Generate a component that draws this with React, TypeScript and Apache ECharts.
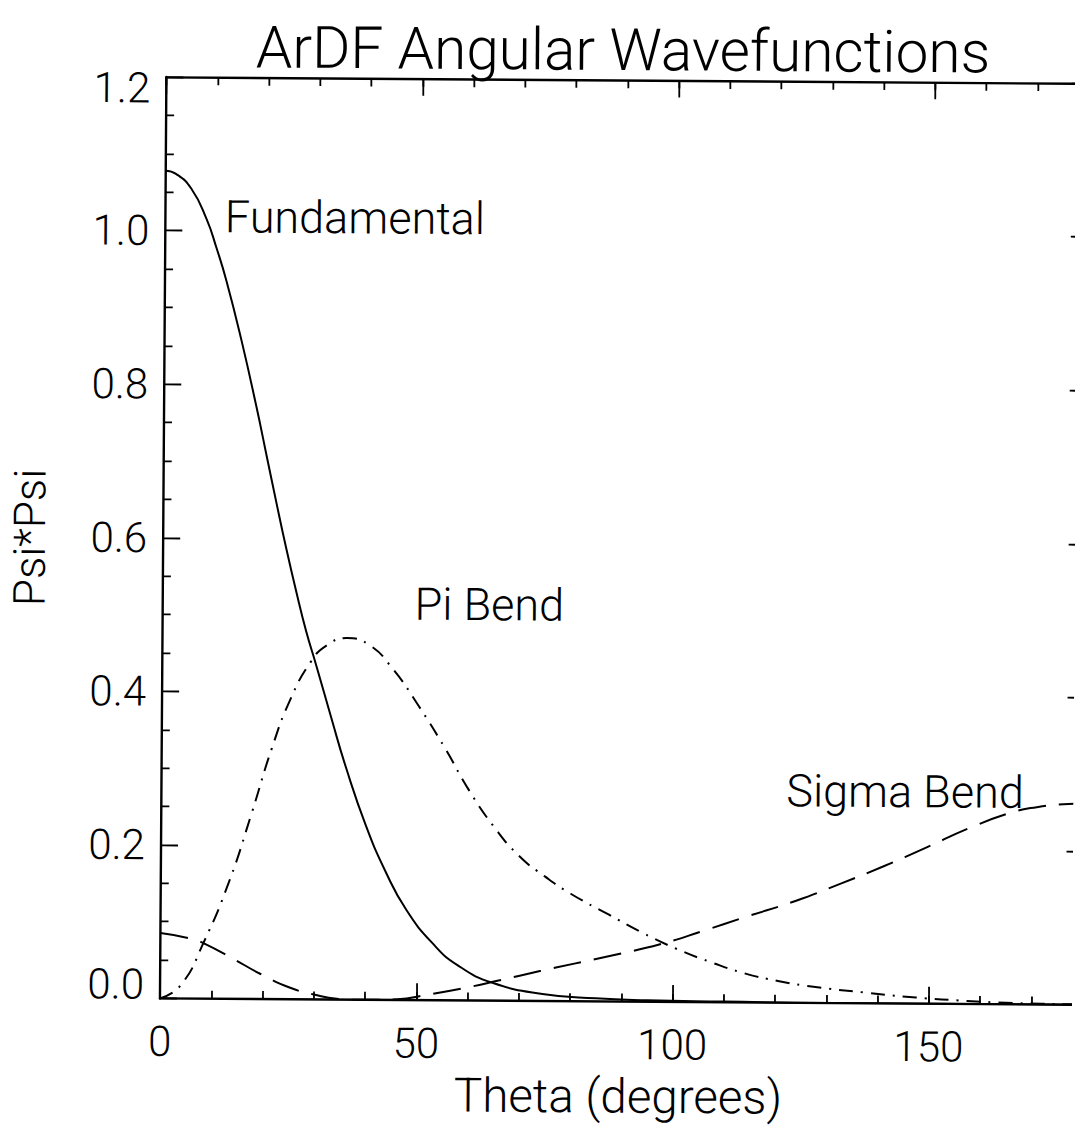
import React, { useEffect, useRef } from "react";
import * as echarts from "echarts";

// ---- Data ----
const fundTheta = [0, 2, 5, 8, 10, 12, 15, 18, 20, 22, 24, 26, 28, 30, 33, 36, 40, 44, 48, 53, 58, 65, 75, 85, 95, 110, 130, 180];
const fundValues = [1.078, 1.074, 1.055, 1.016, 0.978, 0.935, 0.858, 0.772, 0.71, 0.648, 0.588, 0.532, 0.48, 0.436, 0.368, 0.302, 0.226, 0.165, 0.117, 0.075, 0.046, 0.023, 0.009, 0.004, 0.002, 0.001, 0, 0];

const piTheta = [0, 4, 8.5, 13.4, 17.6, 21.5, 25, 29, 32, 36, 40.4, 45, 50, 55.4, 60, 65, 70, 75, 80, 87.5, 94, 100.8, 107.5, 114, 120.8, 127.5, 137.5, 147.5, 157.5, 165, 172, 180];
const piValues = [0, 0.017, 0.074, 0.154, 0.241, 0.327, 0.39, 0.44, 0.461, 0.471, 0.462, 0.431, 0.384, 0.327, 0.274, 0.226, 0.188, 0.162, 0.14, 0.113, 0.09, 0.069, 0.052, 0.038, 0.028, 0.021, 0.014, 0.008, 0.004, 0.002, 0.001, 0];

const sigmaTheta = [0, 6, 8.5, 14.3, 19.5, 25.4, 30, 34.5, 39.7, 46.3, 52, 59.9, 65.8, 74.1, 80.8, 88.8, 97.5, 106, 114, 124, 132.8, 140.8, 149.5, 158, 166, 170.8, 176, 180];
const sigmaValues = [0.085, 0.078, 0.072, 0.052, 0.033, 0.015, 0.0065, 0.001, 0, 0.001, 0.007, 0.017, 0.026, 0.039, 0.049, 0.061, 0.075, 0.093, 0.111, 0.133, 0.156, 0.178, 0.204, 0.23, 0.25, 0.257, 0.261, 0.262];

const xMajorLabels = [0, 50, 100, 150];

const FONT = "Roboto, 'DejaVu Sans', sans-serif";

function pairs(xs: number[], ys: number[]) {
  return xs.map((x, i) => [x, ys[i]]);
}

export default function App() {
  const ref = useRef<HTMLDivElement>(null);

  useEffect(() => {
    document.body.style.margin = "0";
    document.body.style.overflow = "hidden";
    const chart = echarts.init(ref.current!, null, { renderer: "svg" });

    const axisLine = { show: true, onZero: false, lineStyle: { color: "#000", width: 2.4 } };
    const noLine = { show: false, onZero: false };
    const tickStyle = { color: "#000", width: 1.8 };
    const labelFont = { fontSize: 42, fontFamily: FONT, fontWeight: 300, color: "#000" };

    const xMinor = (position: string, labels: boolean) => ({
      type: "value",
      position,
      min: 0,
      max: 180,
      interval: 10,
      axisLine: axisLine,
      axisTick: { show: true, inside: true, length: 8, lineStyle: tickStyle },
      axisLabel: {
        show: labels,
        showMaxLabel: false,
        margin: 22,
        ...labelFont,
        formatter: (v: number) => (xMajorLabels.indexOf(v) >= 0 ? String(v) : ""),
      },
      splitLine: { show: false },
    });
    const xMajor = (position: string) => ({
      type: "value",
      position,
      min: 0,
      max: 180,
      interval: 50,
      axisLine: noLine,
      axisTick: { show: true, inside: true, length: 17, lineStyle: tickStyle },
      axisLabel: { show: false },
      splitLine: { show: false },
    });
    const yAx = (position: string, labels: boolean) => ({
      type: "value",
      position,
      min: 0,
      max: 1.2,
      interval: 0.2,
      axisLine: axisLine,
      axisTick: { show: true, inside: true, length: 17, lineStyle: tickStyle },
      minorTick: { show: true, splitNumber: 4, length: 8, lineStyle: tickStyle },
      axisLabel: {
        show: labels,
        margin: 16,
        ...labelFont,
        formatter: (v: number) => {
          const s = v.toFixed(1);
          if (v >= 1.19) return "{top|" + s + "}";
          if (v <= 0.001) return "{bot|" + s + "}";
          return s;
        },
        rich: {
          top: { ...labelFont, padding: [22, 0, 0, 0] },
          bot: { ...labelFont, padding: [0, 0, 28, 0] },
        },
      },
      splitLine: { show: false },
      minorSplitLine: { show: false },
    });

    const txt = (text: string, x: number, y: number, size: number, align = "left", rotation = 0) => ({
      type: "text",
      x,
      y,
      rotation,
      style: {
        text,
        fill: "#000",
        fontSize: size,
        fontFamily: FONT,
        fontWeight: 300,
        align,
        verticalAlign: "middle",
      },
    });

    const lineSeries = (name: string, data: number[][], type: any) => ({
      name,
      type: "line",
      xAxisIndex: 0,
      yAxisIndex: 0,
      data,
      symbol: "none",
      smooth: true,
      lineStyle: { color: "#000", width: 2, type },
    });

    chart.setOption({
      animation: false,
      backgroundColor: "#fff",
      grid: {
        left: 163,
        right: -10.5,
        top: 79.6,
        bottom: 127,
        containLabel: false,
        outerBoundsMode: "none",
      },
      xAxis: [xMinor("bottom", true), xMajor("bottom"), xMinor("top", false), xMajor("top")],
      yAxis: [yAx("left", true), yAx("right", false)],
      graphic: [
        txt("ArDF Angular Wavefunctions", 619.4, 49.4, 58.5, "center"),
        txt("Theta (degrees)", 621.7, 1096, 47.5, "center"),
        txt("Psi*Psi", 29.8, 541, 44, "center", Math.PI / 2),
        txt("Fundamental", 222.5, 219, 45),
        txt("Pi Bend", 415, 605, 45),
        txt("Sigma Bend", 788, 789, 45),
      ],
      series: [
        lineSeries("Fundamental", pairs(fundTheta, fundValues), "solid"),
        lineSeries("Pi Bend", pairs(piTheta, piValues), [14, 8, 2, 8]),
        lineSeries("Sigma Bend", pairs(sigmaTheta, sigmaValues), [28, 13]),
      ],
    });

    return () => chart.dispose();
  }, []);

  return (
    <div
      ref={ref}
      style={{ width: 1075, height: 1128, transform: "rotate(0.4deg)", transformOrigin: "50% 50%" }}
    />
  );
}
